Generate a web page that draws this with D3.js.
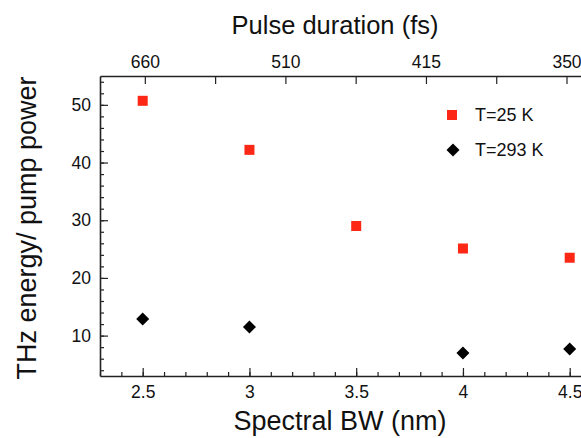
<!DOCTYPE html>
<html>
<head>
<meta charset="utf-8">
<script src="https://cdn.jsdelivr.net/npm/d3@7"></script>
<style>
  body { margin: 0; background: #fff; }
  svg { display: block; font-family: "Liberation Sans", Arial, Helvetica, sans-serif; }
</style>
</head>
<body>
<div id="chart"></div>
<script>
  // data
  const bwCold = [2.5, 3, 3.5, 4, 4.5];
  const valuesCold = [50.7, 42.2, 29.0, 25.1, 23.5];
  const bwRoom = [2.5, 3, 4, 4.5];
  const valuesRoom = [12.9, 11.5, 7.0, 7.7];
  const pulseLabels = ["660", "510", "415", "350"];
  const seriesNames = ["T=25 K", "T=293 K"];

  const WIDTH = 581;
  const HEIGHT = 438;
  const margin = { top: 76, left: 100, bottom: 62 };
  const AXIS_COLOR = "#222";
  const RED = "#fd2715";

  const svg = d3.select("#chart").append("svg")
    .attr("width", WIDTH)
    .attr("height", HEIGHT);

  const x = d3.scaleLinear().domain([2.3, 4.6]).range([margin.left, margin.left + 2.3 * 213.5]);
  const y = d3.scaleLinear().domain([3, 55]).range([HEIGHT - margin.bottom, margin.top]);
  // top axis: evenly spaced pulse duration labels
  const xTop = d3.scaleLinear()
    .domain([0, pulseLabels.length - 1])
    .range([x(2.51), x(4.485)]);

  const bottomY = HEIGHT - margin.bottom;

  function styleAxis(g) {
    g.selectAll("path").attr("stroke", AXIS_COLOR).attr("stroke-width", 1.6);
    g.selectAll("line").attr("stroke", AXIS_COLOR).attr("stroke-width", 1.2);
    g.selectAll("text")
      .attr("fill", "#111")
      .style("font-size", "17.5px");
  }

  // bottom axis
  svg.append("g")
    .attr("transform", `translate(0,${bottomY})`)
    .call(d3.axisBottom(x).tickValues(d3.range(23, 47).map(d => d / 10)).tickSizeInner(-4).tickSizeOuter(0).tickFormat(""))
    .call(styleAxis);
  svg.append("g")
    .attr("transform", `translate(0,${bottomY})`)
    .call(d3.axisBottom(x).tickValues([2.5, 3, 3.5, 4, 4.5]).tickSizeInner(-8).tickSizeOuter(0).tickPadding(10).tickFormat(d3.format("")))
    .call(styleAxis)
    .call(g => g.select(".domain").remove());

  // left axis
  svg.append("g")
    .attr("transform", `translate(${margin.left},0)`)
    .call(d3.axisLeft(y).tickValues(d3.range(4, 56, 2)).tickSizeInner(-4).tickSizeOuter(0).tickFormat(""))
    .call(styleAxis);
  svg.append("g")
    .attr("transform", `translate(${margin.left},0)`)
    .call(d3.axisLeft(y).tickValues([10, 20, 30, 40, 50]).tickSizeInner(-8).tickSizeOuter(0).tickPadding(9))
    .call(styleAxis)
    .call(g => g.select(".domain").remove());

  // top axis
  svg.append("g")
    .attr("transform", `translate(0,${margin.top})`)
    .call(d3.axisTop(x).tickValues([]).tickSizeOuter(0))
    .call(styleAxis);
  svg.append("g")
    .attr("transform", `translate(0,${margin.top})`)
    .call(d3.axisTop(xTop).tickValues(d3.range(0, pulseLabels.length, 0.5)).tickSizeInner(-8).tickSizeOuter(0).tickPadding(8)
      .tickFormat(d => Number.isInteger(d) ? pulseLabels[d] : ""))
    .call(styleAxis)
    .call(g => g.select(".domain").remove());

  // axis titles
  svg.append("text")
    .attr("x", 335).attr("y", 34)
    .attr("text-anchor", "middle")
    .style("font-size", "25.5px")
    .attr("fill", "#111")
    .text("Pulse duration (fs)");

  svg.append("text")
    .attr("x", 340).attr("y", 430)
    .attr("text-anchor", "middle")
    .style("font-size", "27px")
    .attr("fill", "#111")
    .text("Spectral BW (nm)");

  svg.append("text")
    .attr("transform", "translate(36,228) rotate(-90)")
    .attr("text-anchor", "middle")
    .style("font-size", "27px")
    .attr("fill", "#111")
    .text("THz energy/ pump power");

  // markers
  const squareSize = 10;
  svg.append("g").selectAll("rect")
    .data(bwCold.map((b, i) => ({ bw: b, v: valuesCold[i] })))
    .enter().append("rect")
    .attr("x", d => x(d.bw) - squareSize / 2)
    .attr("y", d => y(d.v) - squareSize / 2)
    .attr("width", squareSize)
    .attr("height", squareSize)
    .attr("fill", RED);

  const diamond = "M0,-6.5L6.5,0L0,6.5L-6.5,0Z";
  svg.append("g").selectAll("path")
    .data(bwRoom.map((b, i) => ({ bw: b, v: valuesRoom[i] })))
    .enter().append("path")
    .attr("d", diamond)
    .attr("transform", d => `translate(${x(d.bw)},${y(d.v)})`)
    .attr("fill", "#000");

  // legend
  const legend = svg.append("g").attr("transform", "translate(452,115)");
  legend.append("rect")
    .attr("x", -squareSize / 2).attr("y", -squareSize / 2)
    .attr("width", squareSize).attr("height", squareSize)
    .attr("fill", RED);
  legend.append("path")
    .attr("d", diamond)
    .attr("transform", "translate(1,35)")
    .attr("fill", "#000");
  legend.selectAll("text")
    .data(seriesNames)
    .enter().append("text")
    .attr("x", 23)
    .attr("y", (d, i) => i * 35)
    .attr("dy", "0.36em")
    .style("font-size", "18px")
    .attr("fill", "#111")
    .text(d => d);
</script>
</body>
</html>
